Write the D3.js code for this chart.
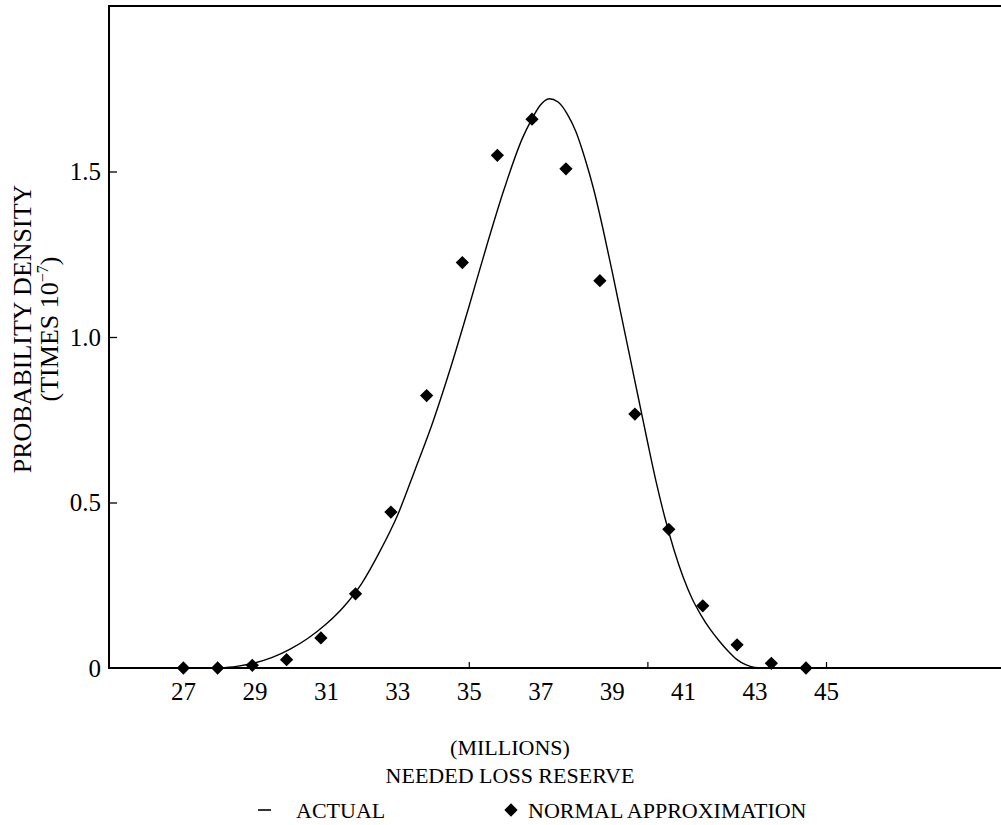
<!DOCTYPE html>
<html>
<head>
<meta charset="utf-8">
<script src="https://cdn.jsdelivr.net/npm/d3@7/dist/d3.min.js"></script>
<style>
  html, body { margin: 0; padding: 0; background: #fff; }
  svg { display: block; }
  text { font-family: "Liberation Serif", "DejaVu Serif", serif; fill: #000; }
</style>
</head>
<body>
<svg id="chart" width="1001" height="825"></svg>
<script>
// Needed loss reserve (millions) vs. probability density (times 10^-7)

// Actual density curve
const actualX = [28.0, 28.5, 29.0, 29.5, 30.0, 30.5, 31.0, 31.5, 32.0, 32.5, 33.0, 33.5, 34.0,
  34.5, 35.0, 35.5, 36.0, 36.5, 36.75, 37.0, 37.25, 37.5, 37.75, 38.0, 38.25, 38.5, 38.75,
  39.0, 39.25, 39.5, 39.75, 40.0, 40.25, 40.5, 40.75, 41.0, 41.25, 41.5, 41.75, 42.0, 42.25,
  42.5, 42.75, 43.0, 43.3];
const actualY = [0.0, 0.005, 0.015, 0.032, 0.057, 0.09, 0.132, 0.185, 0.255, 0.35, 0.46, 0.6,
  0.745, 0.91, 1.09, 1.275, 1.45, 1.6, 1.655, 1.7, 1.72, 1.71, 1.675, 1.62, 1.54, 1.445, 1.33,
  1.205, 1.075, 0.945, 0.815, 0.685, 0.56, 0.45, 0.355, 0.275, 0.21, 0.16, 0.118, 0.083, 0.052,
  0.026, 0.01, 0.002, 0.0];

// Normal approximation points
const normalX = [27.01, 27.97, 28.94, 29.9, 30.86, 31.83, 32.82, 33.82, 34.82, 35.8, 36.77,
  37.72, 38.67, 39.65, 40.6, 41.55, 42.51, 43.47, 44.44];
const normalY = [0.0, 0.0, 0.008, 0.025, 0.091, 0.224, 0.471, 0.823, 1.225, 1.549, 1.658,
  1.508, 1.17, 0.767, 0.419, 0.188, 0.07, 0.014, 0.0];

// Axis labels and ticks
const xLabelValues = [27, 29, 31, 33, 35, 37, 39, 41, 43, 45];
const xMarkValues = [35, 40, 45];
const yTickValues = [0, 0.5, 1.0, 1.5];
const yTickLabels = ["0", "0.5", "1.0", "1.5"];
const yMax = 2.0;

const svg = d3.select("#chart");

const frame = { left: 109, right: 1001, top: 6, bottom: 668 };

const x = d3.scaleLinear().domain([27, 45]).range([183, 826]);
const y = d3.scaleLinear().domain([0, yMax]).range([frame.bottom, frame.top]);

// Frame: left axis, top border, baseline
svg.append("path")
  .attr("d", `M${frame.right},${frame.top}H${frame.left}V${frame.bottom}H${frame.right}`)
  .attr("fill", "none")
  .attr("stroke", "#000")
  .attr("stroke-width", 2);

// Y axis (ticks point inward)
const yAxis = d3.axisLeft(y)
  .tickValues(yTickValues)
  .tickFormat((d, i) => yTickLabels[i])
  .tickSizeInner(-8)
  .tickSizeOuter(0)
  .tickPadding(8);
const gy = svg.append("g").attr("transform", `translate(${frame.left},0)`).call(yAxis);
gy.select(".domain").remove();
gy.selectAll(".tick line").attr("stroke", "#000").attr("stroke-width", 1.3)
  .filter(d => d === 0).remove();
gy.selectAll(".tick text")
  .attr("font-size", 25)
  .style("font-family", '"Liberation Serif", serif');

// X axis labels
const xAxis = d3.axisBottom(x)
  .tickValues(xLabelValues)
  .tickFormat(d3.format("d"))
  .tickSize(0)
  .tickPadding(14);
const gx = svg.append("g").attr("transform", `translate(0,${frame.bottom})`).call(xAxis);
gx.select(".domain").remove();
gx.selectAll(".tick line").remove();
gx.selectAll(".tick text")
  .attr("font-size", 25)
  .style("font-family", '"Liberation Serif", serif');

// X axis tick marks (every 5 units, pointing up)
const xMarks = d3.axisBottom(x).tickValues(xMarkValues).tickSizeInner(-6).tickSizeOuter(0).tickFormat("");
const gm = svg.append("g").attr("transform", `translate(0,${frame.bottom})`).call(xMarks);
gm.select(".domain").remove();
gm.selectAll(".tick line").attr("stroke", "#000").attr("stroke-width", 1.2);

// Actual curve
const actual = actualX.map((v, i) => [v, actualY[i]]);
const line = d3.line()
  .x(d => x(d[0]))
  .y(d => y(d[1]))
  .curve(d3.curveMonotoneX);
svg.append("path")
  .datum(actual)
  .attr("d", line)
  .attr("fill", "none")
  .attr("stroke", "#000")
  .attr("stroke-width", 1.4);

// Normal approximation diamonds
const diamond = d3.symbol().type(d3.symbolSquare).size(88);
const normal = normalX.map((v, i) => [v, normalY[i]]);
svg.append("g").selectAll("path")
  .data(normal)
  .join("path")
  .attr("d", diamond)
  .attr("transform", d => `translate(${x(d[0])},${y(d[1])}) rotate(45)`)
  .attr("fill", "#000");

// Y axis title
const yTitle = svg.append("text")
  .attr("transform", "translate(0,329) rotate(-90)")
  .attr("text-anchor", "middle")
  .attr("font-size", 26);
yTitle.append("tspan").attr("x", 0).attr("y", 31).text("PROBABILITY DENSITY");
const yTitle2 = yTitle.append("tspan").attr("x", 0).attr("y", 58);
yTitle2.append("tspan").text("(TIMES 10");
yTitle2.append("tspan").attr("dy", -10).attr("font-size", 16).text("\u22127");
yTitle2.append("tspan").attr("dy", 10).text(")");

// X axis title
svg.append("text")
  .attr("x", 510).attr("y", 755)
  .attr("text-anchor", "middle")
  .attr("font-size", 22)
  .text("(MILLIONS)");
svg.append("text")
  .attr("x", 510).attr("y", 783)
  .attr("text-anchor", "middle")
  .attr("font-size", 22)
  .text("NEEDED LOSS RESERVE");

// Legend
const legend = svg.append("g");
legend.append("line")
  .attr("x1", 258).attr("x2", 271)
  .attr("y1", 810).attr("y2", 810)
  .attr("stroke", "#000").attr("stroke-width", 1.6);
legend.append("text")
  .attr("x", 296).attr("y", 818)
  .attr("font-size", 22)
  .text("ACTUAL");
legend.append("path")
  .attr("d", diamond)
  .attr("transform", "translate(511,810) rotate(45)")
  .attr("fill", "#000");
legend.append("text")
  .attr("x", 528).attr("y", 818)
  .attr("font-size", 22)
  .text("NORMAL APPROXIMATION");
</script>
</body>
</html>
